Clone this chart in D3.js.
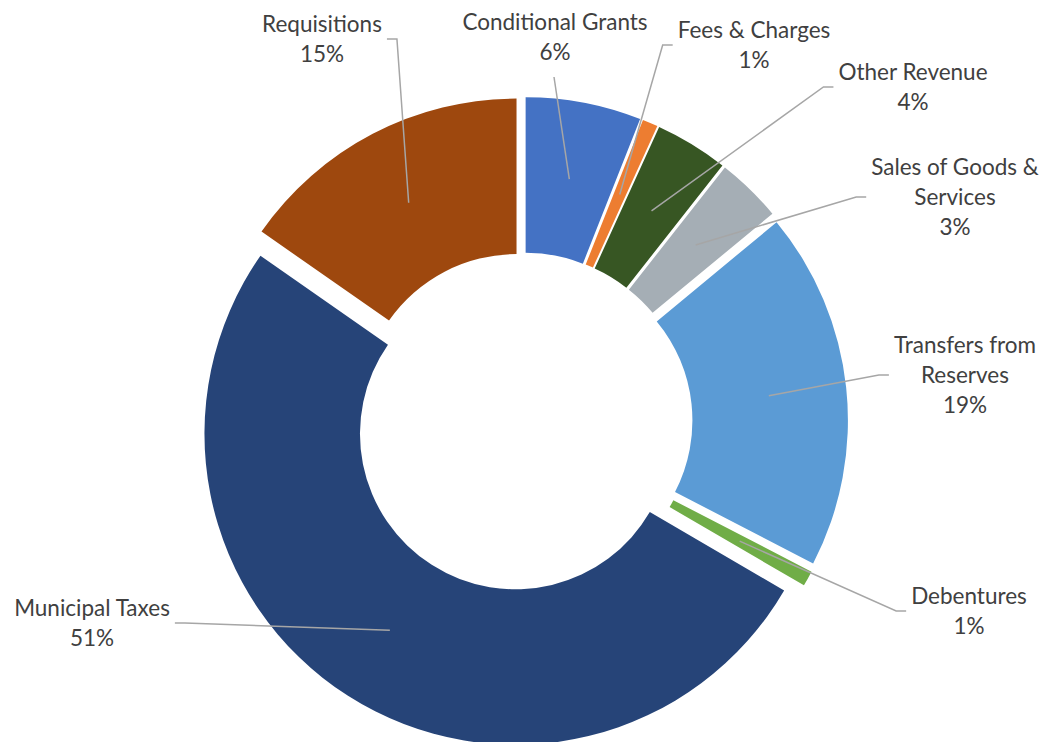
<!DOCTYPE html>
<html>
<head>
<meta charset="utf-8">
<script src="https://cdn.jsdelivr.net/npm/d3@7"></script>
<style>
  body { margin: 0; background: #fff; }
  .lbl { font-family: Lato, "Open Sans", sans-serif; fill: #404040; }
</style>
</head>
<body>
<svg width="1041" height="742"></svg>
<script>

	// Revenue share by source, in the order of the slices (clockwise from top)
	var categories = ["Conditional Grants", "Fees & Charges", "Other Revenue", "Sales of Goods & Services",
	                  "Transfers from Reserves", "Debentures", "Municipal Taxes", "Requisitions"];
	var shares = [6.0, 0.8, 3.8, 3.4, 18.6, 0.8, 51.3, 15.3];
	// how each label is broken over lines
	var labelLines = [["Conditional Grants"], ["Fees & Charges"], ["Other Revenue"], ["Sales of Goods &", "Services"],
	                  ["Transfers from", "Reserves"], ["Debentures"], ["Municipal Taxes"], ["Requisitions"]];

	var colours = ["#4472c4", "#ed7d31", "#375623", "#a5aeb5", "#5b9bd5", "#70ad47", "#264478", "#9e480e"];

	// label layout: centre x, leader y, side the leader comes from
	var labelPos = [[555, 37, "top"], [754, 45, "right"], [913, 87, "right"], [955, 197, "right"],
	                [965, 375, "right"], [969, 611, "right"], [92, 623, "left"], [322, 39, "left"]];

	var svg = d3.select("svg"),
		cx = 523, cy = 422,
		outer = 311, inner = 155.5,
		explode = 14,
		lineH = 30,
		fontSize = 22.5;

	var total = d3.sum(shares);

	var data = categories.map(function(c, i){
		return { name: c, value: shares[i], lines: labelLines[i], colour: colours[i], pos: labelPos[i] };
	});

	var pie = d3.pie().sort(null).value(function(d){ return d.value; });
	var arc = d3.arc().innerRadius(inner).outerRadius(outer);

	var arcs = pie(data);

	function offset(a){
		var m = (a.startAngle + a.endAngle) / 2;
		return [explode * Math.sin(m), -explode * Math.cos(m)];
	}

	var g = svg.append("g").attr("transform", "translate(" + cx + "," + cy + ")");

	g.selectAll("path.slice")
	 .data(arcs)
	 .enter().append("path")
	  .attr("class", "slice")
	  .attr("transform", function(a){ var o = offset(a); return "translate(" + o[0] + "," + o[1] + ")"; })
	  .attr("d", arc)
	  .attr("fill", function(a){ return a.data.colour; });

	// labels
	var lg = svg.append("g");
	arcs.forEach(function(a){
		var d = a.data, p = d.pos;
		var lines = d.lines.concat([Math.round(d.value / total * 100) + "%"]);
		var n = lines.length;
		var first = p[1] - (n - 1) * lineH / 2 + 8;
		var t = lg.append("text")
				  .attr("class", "lbl")
				  .attr("text-anchor", "middle")
				  .style("font-size", fontSize + "px");
		lines.forEach(function(s, i){
			t.append("tspan").attr("x", p[0]).attr("y", first + i * lineH).text(s);
		});
		var w = 0;
		t.selectAll("tspan").each(function(){ w = Math.max(w, this.getComputedTextLength()); });

		var o = offset(a), c = arc.centroid(a);
		var ax = cx + o[0] + c[0], ay = cy + o[1] + c[1];
		var pts;
		if (p[2] == "top") {
			pts = [[p[0] - 1, first + (n - 1) * lineH + 17], [ax, ay]];
		} else if (p[2] == "right") {
			var ex = p[0] - w / 2 - 5;
			pts = [[ex, p[1]], [ex - 10, p[1]], [ax, ay]];
		} else {
			var ex = p[0] + w / 2 + 5;
			pts = [[ex, p[1]], [ex + 10, p[1]], [ax, ay]];
		}
		svg.append("path")
		   .attr("d", d3.line()(pts))
		   .attr("fill", "none")
		   .attr("stroke", "#a6a6a6")
		   .attr("stroke-width", 1.5);
	});

</script>
</body>
</html>
